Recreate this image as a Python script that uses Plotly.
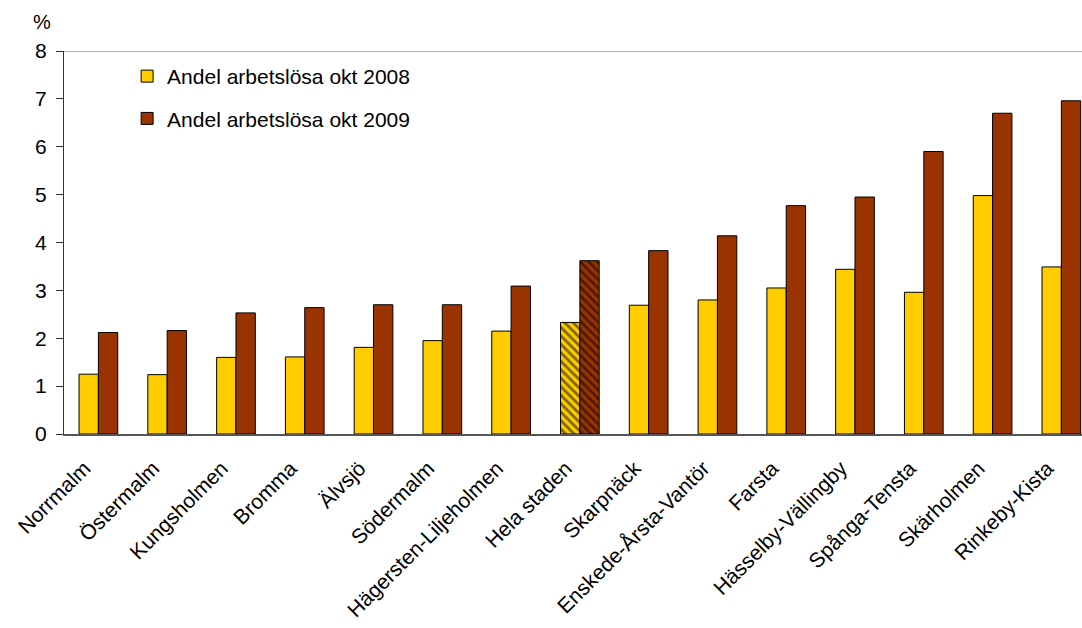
import plotly.graph_objects as go

categories = ["Norrmalm", "Östermalm", "Kungsholmen", "Bromma", "Älvsjö", "Södermalm",
              "Hägersten-Liljeholmen", "Hela staden", "Skarpnäck", "Enskede-Årsta-Vantör",
              "Farsta", "Hässelby-Vällingby", "Spånga-Tensta", "Skärholmen", "Rinkeby-Kista"]
values_2008 = [1.25, 1.24, 1.60, 1.61, 1.81, 1.95, 2.15, 2.33, 2.69, 2.80, 3.05, 3.44, 2.96, 4.98, 3.49]
values_2009 = [2.12, 2.16, 2.53, 2.64, 2.70, 2.70, 3.09, 3.62, 3.83, 4.14, 4.77, 4.95, 5.90, 6.70, 6.96]
series_names = ["Andel arbetslösa okt 2008", "Andel arbetslösa okt 2009"]
y_ticks = [0, 1, 2, 3, 4, 5, 6, 7, 8]
highlight = "Hela staden"

FONT = "Liberation Sans, Arial, sans-serif"
shapes = ["\\" if c == highlight else "" for c in categories]

fig = go.Figure()
for name, vals, col, grp in [(series_names[0], values_2008, "#FFCC00", "a"),
                              (series_names[1], values_2009, "#993300", "b")]:
    fig.add_trace(go.Bar(
        x=categories, y=vals, name=name, legendgroup=grp,
        marker=dict(color=col, line=dict(color="#000000", width=1),
                    pattern=dict(shape=shapes, fillmode="overlay", fgcolor="#000000",
                                 size=6, solidity=0.45)),
    ))

fig.update_layout(
    width=1082, height=628,
    margin=dict(l=64, r=0, t=51, b=194),
    paper_bgcolor="white", plot_bgcolor="white",
    barmode="group", bargap=0.4375, bargroupgap=0,
    font=dict(family=FONT, size=21, color="#000000"),
    showlegend=True,
    legend=dict(x=0.062, y=0.987, xanchor="left", yanchor="top",
                bgcolor="rgba(0,0,0,0)", font=dict(size=21),
                traceorder="grouped", tracegroupgap=12, itemwidth=30),
    xaxis=dict(range=[-0.5, 14.3], tickangle=-45, showgrid=False, zeroline=False,
               showline=True, linecolor="#555555", linewidth=1.5, ticks="",
               tickfont=dict(size=21), automargin=False,
               ticklabelstandoff=12, ticklabelshift=-14),
    yaxis=dict(range=[0, 8], tickvals=y_ticks, showgrid=False, zeroline=False,
               showline=True, linecolor="#333333", linewidth=1, ticks="outside",
               ticklen=7, tickcolor="#333333", tickfont=dict(size=21),
               ticklabelstandoff=5, automargin=False),
    shapes=[dict(type="line", xref="paper", yref="y", x0=0, x1=1, y0=8, y1=8,
                 line=dict(color="#999999", width=1.5))],
    annotations=[dict(text="%", xref="paper", yref="paper", x=-0.0216, y=1.075,
                      xanchor="center", yanchor="middle", showarrow=False,
                      font=dict(size=20))],
)

fig.write_html("out.html", config={"displayModeBar": False},
               post_script="document.body.style.margin='0';document.body.style.overflow='hidden';")
